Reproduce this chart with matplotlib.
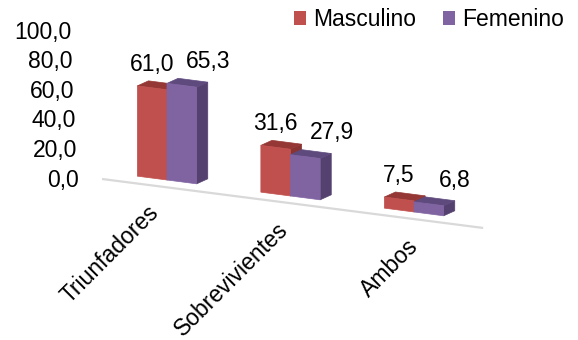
import matplotlib
matplotlib.use("Agg")
import matplotlib.pyplot as plt
from matplotlib.patches import Polygon, Patch

plt.rcParams['font.family'] = ['Liberation Sans', 'DejaVu Sans']

categories = ["Triunfadores", "Sobrevivientes", "Ambos"]
series_names = ["Masculino", "Femenino"]
masculino = [61.0, 31.6, 7.5]
femenino = [65.3, 27.9, 6.8]
yticks = [0, 20, 40, 60, 80, 100]

# face colours: front, top, side
red_faces = ("#C0504D", "#953735", "#8A3432")
purple_faces = ("#8064A2", "#5F4A7E", "#54416F")

FS = 16.5
W, H, DPI = 578, 340, 100
fig = plt.figure(figsize=(W / DPI, H / DPI), dpi=DPI)
ax = fig.add_axes([0, 0, 1, 1])

px_per_cat = 123.5
px_per_val = 1.48
x0_px, y0_px = 167, 180
ax.set_xlim(-x0_px / px_per_cat, (W - x0_px) / px_per_cat)
ax.set_ylim((y0_px - H) / px_per_val, y0_px / px_per_val)
ax.set_axis_off()

bar_w = 0.24
base_slope = 10.8          # floor drop per category (value units)
depth_dx, depth_dy = 0.09, 3.4


def base(x):
    return -base_slope * x


def draw_bar(x_left, value, faces):
    front, top, side = faces
    xl, xr = x_left, x_left + bar_w
    bl, br = base(xl), base(xr)
    tl, tr = bl + value, br + value
    side_poly = [(xr, br), (xr + depth_dx, br + depth_dy),
                 (xr + depth_dx, tr + depth_dy), (xr, tr)]
    top_poly = [(xl, tl), (xr, tr), (xr + depth_dx, tr + depth_dy),
                (xl + depth_dx, tl + depth_dy)]
    front_poly = [(xl, bl), (xr, br), (xr, tr), (xl, tl)]
    for poly, col in ((side_poly, side), (top_poly, top), (front_poly, front)):
        ax.add_patch(Polygon(poly, closed=True, facecolor=col,
                             edgecolor=col, linewidth=0.5))
    return (xl + xr) / 2, (tl + tr) / 2


# floor edge
floor_slope, floor_off = 10.72, -4.96
fx = [-0.526, 2.56]
ax.plot(fx, [floor_off - floor_slope * v for v in fx],
        color="#D9D9D9", linewidth=1.6, solid_capstyle="butt")

# value axis labels (slightly slanted wall)
for v in yticks:
    ax.text(-0.71 - 0.00065 * v, v, f"{v:.1f}".replace(".", ","),
            ha="right", va="center", fontsize=FS, color="black")

for i, (m, f) in enumerate(zip(masculino, femenino)):
    cx, cy = draw_bar(i - bar_w, m, red_faces)
    ax.annotate(f"{m:.1f}".replace(".", ","), (cx, cy), xytext=(0, 17),
                textcoords="offset points", ha="center", va="center",
                fontsize=FS, color="black")
    cx, cy = draw_bar(i, f, purple_faces)
    ax.annotate(f"{f:.1f}".replace(".", ","), (cx, cy), xytext=(19, 17),
                textcoords="offset points", ha="center", va="center",
                fontsize=FS, color="black")

# category labels along the floor
for i, name in enumerate(categories):
    lx = i * 1.05 - 0.16
    ly = floor_off - floor_slope * lx - 11.0
    ax.text(lx, ly, name, rotation=45, rotation_mode="anchor",
            ha="right", va="top", fontsize=16.5, color="black")

handles = [Patch(facecolor=red_faces[0], edgecolor="none"),
           Patch(facecolor=purple_faces[0], edgecolor="none")]
fig.legend(handles, series_names, loc="upper right",
           bbox_to_anchor=(564 / W, 1 - 8 / H), ncol=2, frameon=False,
           fontsize=FS, handlelength=0.55, handleheight=0.55,
           handletextpad=0.3, columnspacing=1.15, borderpad=0,
           borderaxespad=0)

fig.savefig("out.png", dpi=DPI)
